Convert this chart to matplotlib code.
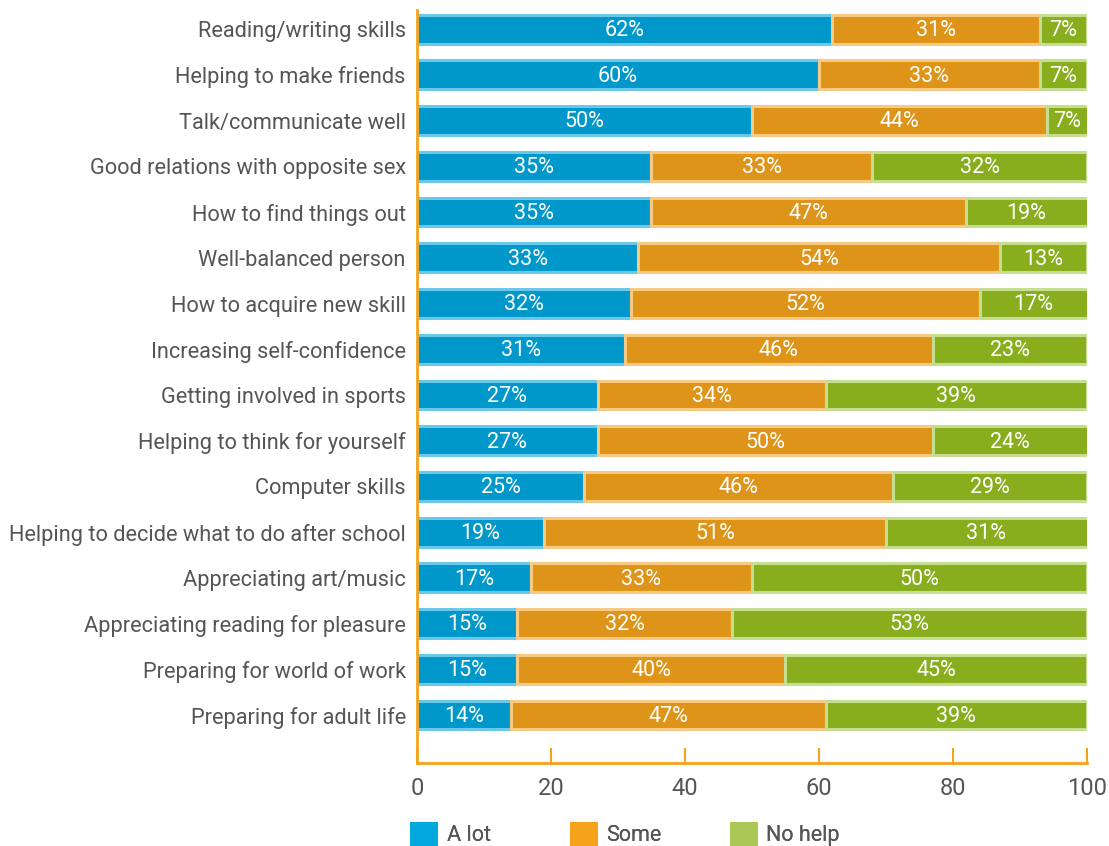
import numpy as np
import matplotlib
matplotlib.use("Agg")
import matplotlib.pyplot as plt
from matplotlib.patches import Patch

plt.rcParams['font.family'] = ['Roboto', 'DejaVu Sans']

categories = [
    "Reading/writing skills",
    "Helping to make friends",
    "Talk/communicate well",
    "Good relations with opposite sex",
    "How to find things out",
    "Well-balanced person",
    "How to acquire new skill",
    "Increasing self-confidence",
    "Getting involved in sports",
    "Helping to think for yourself",
    "Computer skills",
    "Helping to decide what to do after school",
    "Appreciating art/music",
    "Appreciating reading for pleasure",
    "Preparing for world of work",
    "Preparing for adult life",
]
a_lot = [62, 60, 50, 35, 35, 33, 32, 31, 27, 27, 25, 19, 17, 15, 15, 14]
some = [31, 33, 44, 33, 47, 54, 52, 46, 34, 50, 46, 51, 33, 32, 40, 47]
no_help = [7, 7, 7, 32, 19, 13, 17, 23, 39, 24, 29, 31, 50, 53, 45, 39]

# name, values, bar face, bevel edge, legend swatch
series = [
    ("A lot", a_lot, "#0098CA", "#6CC8EA", "#00A8DE"),
    ("Some", some, "#DE9418", "#F7C983", "#F5A31A"),
    ("No help", no_help, "#88AE1E", "#C6DE92", "#A9C855"),
]

axis_col = "#F5A31A"
text_col = "#555555"

fig = plt.figure(figsize=(11.09, 8.46), dpi=100)
ax = fig.add_axes([0.376, 0.098, 0.604, 0.890])

y = np.arange(len(categories))
left = np.zeros(len(categories))
for name, vals, face, edge, _ in series:
    vals = np.array(vals, dtype=float)
    ax.barh(y, vals, left=left, height=0.63, color=face, edgecolor=edge,
            linewidth=2.2, zorder=2)
    for i in range(len(y)):
        right = min(left[i] + vals[i], 100)
        cx = (left[i] + right) / 2
        ax.text(cx, y[i] + 0.03, f"{int(vals[i])}%", ha="center", va="center",
                color="white", fontsize=15.5, zorder=3)
    left = left + vals

ax.set_xlim(0, 100)
ax.set_ylim(len(categories) - 1 + 1.05, -0.415)
ax.set_yticks(y)
ax.set_yticklabels(categories, fontsize=15.7, color=text_col)
ax.tick_params(axis="y", length=0, pad=8)
ax.set_xticks([0, 20, 40, 60, 80, 100])
ax.tick_params(axis="x", direction="in", length=11, width=1.5, color=axis_col,
               labelsize=17, labelcolor=text_col, pad=10)

for s in ["top", "right"]:
    ax.spines[s].set_visible(False)
for s in ["left", "bottom"]:
    ax.spines[s].set_color(axis_col)
    ax.spines[s].set_linewidth(2)

# legend entries spaced evenly along the bottom
leg_x = [0.370, 0.514, 0.658]
for (name, _, _, _, leg), lx in zip(series, leg_x):
    lg = fig.legend(handles=[Patch(facecolor=leg, edgecolor="none", label=name)],
                    loc="lower left", bbox_to_anchor=(lx, 0.0), frameon=False,
                    fontsize=15.5, labelcolor=text_col, borderpad=0,
                    borderaxespad=0, handlelength=1.3, handleheight=1.3,
                    handletextpad=0.4)
    fig.add_artist(lg)

fig.savefig("out.png", dpi=100)
